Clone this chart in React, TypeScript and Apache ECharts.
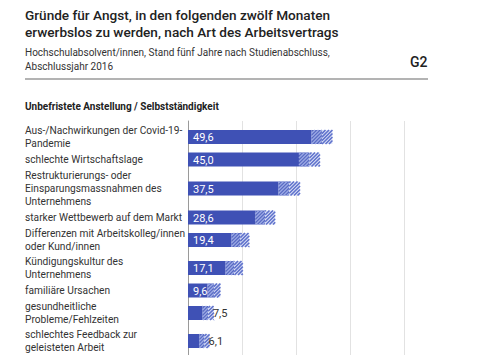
import React, { useEffect, useRef } from "react";
import * as echarts from "echarts";

const categories = [
  "Aus-/Nachwirkungen der Covid-19-\nPandemie",
  "schlechte Wirtschaftslage",
  "Restrukturierungs- oder\nEinsparungsmassnahmen des\nUnternehmens",
  "starker Wettbewerb auf dem Markt",
  "Differenzen mit Arbeitskolleg/innen\noder Kund/innen",
  "Kündigungskultur des\nUnternehmens",
  "familiäre Ursachen",
  "gesundheitliche\nProbleme/Fehlzeiten",
  "schlechtes Feedback zur\ngeleisteten Arbeit",
];
const values = [49.6, 45.0, 37.5, 28.6, 19.4, 17.1, 9.6, 7.5, 6.1];
const confidence = [3.9, 3.9, 4.0, 3.7, 3.3, 3.2, 2.4, 2.1, 1.9];
const xTicks = [0, 20, 40, 60, 80, 100];

const TITLE = "Gründe für Angst, in den folgenden zwölf Monaten\nerwerbslos zu werden, nach Art des Arbeitsvertrags";
const SUBTITLE = "Hochschulabsolvent/innen, Stand fünf Jahre nach Studienabschluss,\nAbschlussjahr 2016";
const GROUP = "Unbefristete Anstellung / Selbstständigkeit";
const CODE = "G2";

const FONT = "Roboto, 'Noto Sans', sans-serif";
const BLUE = "#3f51b5";

// layout of rows from the number of label lines
const LINE_H = 13;
const BAR_H = 14;
const ROW_MIN = 15;
const GAP = 2;
const blockH = categories.map((c) => Math.max(ROW_MIN, c.split("\n").length * LINE_H));
const centers: number[] = [];
blockH.forEach((h, i) => {
  if (i === 0) centers.push(3 + h / 2);
  else centers.push(centers[i - 1] + GAP + (blockH[i - 1] + h) / 2);
});

function stripes(x0: number, x1: number, y0: number, y1: number, color: string, spacing: number, width: number) {
  const h = y1 - y0;
  const out: any[] = [];
  if (x1 - x0 <= 0) return out;
  const start = Math.floor((x0 - h) / spacing) * spacing;
  for (let s = start; s <= x1; s += spacing) {
    const tmin = Math.max(0, x0 - s);
    const tmax = Math.min(h, x1 - s);
    if (tmin < tmax) {
      out.push({
        type: "line",
        shape: { x1: s + tmin, y1: y1 - tmin, x2: s + tmax, y2: y1 - tmax },
        style: { stroke: color, lineWidth: width },
        silent: true,
      });
    }
  }
  return out;
}

export default function App() {
  const ref = useRef<HTMLDivElement>(null);
  useEffect(() => {
    if (!ref.current) return;
    const chart = echarts.init(ref.current, undefined, { renderer: "svg" });
    const renderItem = (params: any, api: any) => {
      const i = params.dataIndex;
      const v = values[i];
      const ci = confidence[i];
      const c = centers[i];
      const p0 = api.coord([0, c]);
      const pLo = api.coord([v - ci, c]);
      const pV = api.coord([v, c]);
      const pHi = api.coord([v + ci, c]);
      const y0 = p0[1] - BAR_H / 2;
      const y1 = p0[1] + BAR_H / 2;
      const children: any[] = [];
      children.push({
        type: "rect",
        shape: { x: p0[0], y: y0, width: pLo[0] - p0[0], height: BAR_H },
        style: { fill: BLUE },
      });
      children.push({
        type: "rect",
        shape: { x: pLo[0], y: y0, width: pV[0] - pLo[0], height: BAR_H },
        style: { fill: "#5466c0" },
      });
      children.push(...stripes(pLo[0], pV[0], y0, y1, "#9aa8e4", 3.5, 1.4));
      children.push({
        type: "rect",
        shape: { x: pV[0], y: y0, width: pHi[0] - pV[0], height: BAR_H },
        style: { fill: "#dfe4f7" },
      });
      children.push(...stripes(pV[0], pHi[0], y0, y1, "#5f72cc", 3.5, 1.6));
      const label = v.toFixed(1).replace(".", ",");
      const inside = pLo[0] - p0[0] >= 18;
      children.push({
        type: "text",
        x: inside ? p0[0] + 5 : pHi[0] - 1,
        y: p0[1] + 0.5,
        style: {
          text: label,
          fill: inside ? "#ffffff" : "#333333",
          font: `11px ${FONT}`,
          verticalAlign: "middle",
          align: "left",
        },
      });
      children.push({
        type: "text",
        x: 25,
        y: p0[1],
        style: {
          text: categories[i],
          fill: "#333333",
          font: `10.2px ${FONT}`,
          lineHeight: LINE_H,
          verticalAlign: "middle",
          align: "left",
        },
      });
      return { type: "group", children };
    };
    chart.setOption({
      animation: false,
      grid: { left: 188, right: 22, top: 121, height: 250 },
      xAxis: {
        type: "value",
        min: xTicks[0],
        max: xTicks[xTicks.length - 1],
        interval: 20,
        axisLabel: { show: false },
        axisTick: { show: false },
        axisLine: { show: false },
        splitLine: {
          show: true,
          showMinLine: false,
          showMaxLine: false,
          lineStyle: { color: "#e2e2e2", width: 1 },
        },
      },
      yAxis: {
        type: "value",
        inverse: true,
        min: 0,
        max: 250,
        axisLabel: { show: false },
        axisTick: { show: false },
        splitLine: { show: false },
        axisLine: { show: true, onZero: false, lineStyle: { color: "#9a9a9a", width: 1 } },
      },
      series: [
        {
          type: "custom",
          renderItem,
          data: values.map((v, i) => [v, centers[i]]),
          encode: { x: 0, y: 1 },
          clip: false,
        },
      ],
      graphic: [
        {
          type: "text",
          left: 25,
          top: 6,
          style: { text: TITLE, font: `500 13.6px ${FONT}`, fill: "#222222", lineHeight: 17 },
        },
        {
          type: "text",
          left: 25,
          top: 45,
          style: { text: SUBTITLE, font: `10px ${FONT}`, fill: "#333333", lineHeight: 14 },
        },
        {
          type: "text",
          left: 410,
          top: 55,
          style: { text: CODE, font: `500 14px ${FONT}`, fill: "#222222" },
        },
        {
          type: "line",
          shape: { x1: 25, y1: 79, x2: 428, y2: 79 },
          style: { stroke: "#9a9a9a", lineWidth: 1.5 },
        },
        {
          type: "text",
          left: 25,
          top: 101,
          style: { text: GROUP, font: `bold 10px ${FONT}`, fill: "#222222" },
        },
      ],
    });
    return () => chart.dispose();
  }, []);
  return (
    <div
      ref={ref}
      style={{ position: "fixed", left: 0, top: 0, width: 480, height: 380, background: "#fff" }}
    />
  );
}
